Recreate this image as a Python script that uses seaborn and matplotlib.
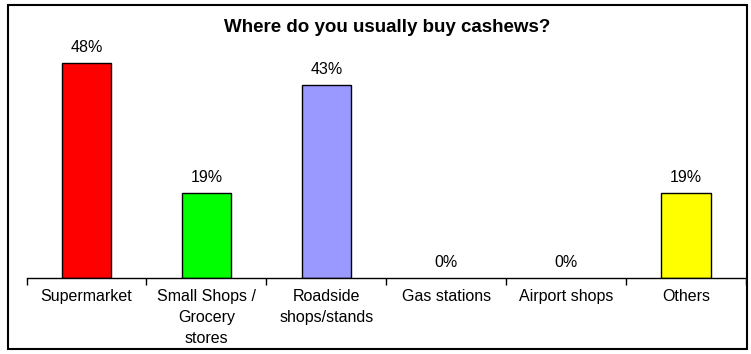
import matplotlib
matplotlib.use("Agg")
import matplotlib.pyplot as plt
import seaborn as sns
import pandas as pd
from matplotlib.patches import Rectangle

categories = ["Supermarket", "Small Shops /\nGrocery\nstores", "Roadside\nshops/stands",
              "Gas stations", "Airport shops", "Others"]
values = [48, 19, 43, 0, 0, 19]
colors = ["#FF0000", "#00FF00", "#9999FF", "#FFFFFF", "#FFFFFF", "#FFFF00"]
title = "Where do you usually buy cashews?"

sns.set_style("white")
plt.rcParams['font.family'] = ['Liberation Sans', 'DejaVu Sans']
plt.rcParams['text.color'] = 'black'
plt.rcParams['xtick.color'] = 'black'

df = pd.DataFrame({"cat": categories, "val": values})

fig = plt.figure(figsize=(7.51, 3.54), dpi=100)
ax = fig.add_axes([26.5/751, 76/354, (746-26.5)/751, 224/354])

sns.barplot(data=df, x="cat", y="val", hue="cat", palette=colors, legend=False,
            width=0.41, edgecolor="black", linewidth=1, ax=ax, saturation=1)
for p in ax.patches:
    if p.get_height() == 0:
        p.set_linewidth(0)

ax.set_ylim(0, 50)
ax.set_xlim(-0.5, len(categories) - 0.5)
for i, v in enumerate(values):
    ax.annotate(f"{v}%", (i, v), xytext=(0, 6), textcoords="offset points",
                ha="center", va="bottom", fontsize=11.5, color="black")

ax.set_xlabel("")
ax.set_ylabel("")
ax.set_yticks([])
for s in ["top", "right", "left"]:
    ax.spines[s].set_visible(False)
ax.spines["bottom"].set_color("black")
ax.spines["bottom"].set_linewidth(1)
ax.set_xticks([i - 0.5 for i in range(len(categories) + 1)], minor=True)
ax.tick_params(axis="x", which="minor", length=5, width=1, color="black", direction="out", bottom=True)
ax.tick_params(axis="x", which="major", length=0, labelsize=11.5, pad=8, labelcolor="black")
ax.set_xticks(range(len(categories)))
ax.set_xticklabels(categories, linespacing=1.5)

fig.text(387/751, 1 - 28/354, title, ha="center", va="center", fontsize=13.5,
         fontweight="bold", color="black")

fig.patches.append(Rectangle((8/751, 5/354), (747-8)/751, (349-5)/354, transform=fig.transFigure,
                             fill=False, edgecolor="black", linewidth=1.5))

fig.savefig("out.png", dpi=100)
